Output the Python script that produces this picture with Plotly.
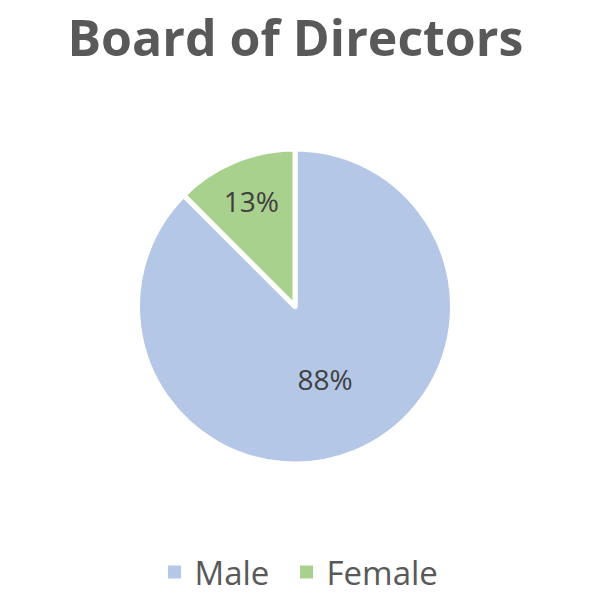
import plotly.graph_objects as go

labels = ["Male", "Female"]
values = [87.5, 12.5]
colors = ["#B4C7E7", "#A9D18E"]
title_text = "Board of Directors"

fig = go.Figure()
fig.add_trace(go.Pie(
    labels=labels,
    values=values,
    sort=False,
    direction="clockwise",
    rotation=0,
    marker=dict(colors=colors, line=dict(color="white", width=5)),
    texttemplate="%{percent:.0%}",
    textposition="inside",
    insidetextorientation="horizontal",
    textfont=dict(family="Open Sans, Arial, sans-serif", size=28, color="#404040"),
    domain=dict(x=[0.215, 0.7417], y=[0.24, 0.765]),
    hoverinfo="label+percent",
    showlegend=False,
))

# legend entries with larger square swatches, one legend per entry
legend_ids = ["legend", "legend2"]
for lab, col, lg in zip(labels, colors, legend_ids):
    fig.add_trace(go.Scatter(
        x=[None], y=[None], mode="markers", name=lab,
        marker=dict(symbol="square", size=13, color=col),
        showlegend=True, hoverinfo="skip", legend=lg,
    ))

legend_font = dict(family="Open Sans, Arial, sans-serif", size=33, color="#595959")
legend_y = 1 - 564/600

fig.update_layout(
    width=600, height=600,
    margin=dict(l=0, r=0, t=0, b=0, autoexpand=False),
    paper_bgcolor="white",
    plot_bgcolor="white",
    xaxis=dict(visible=False),
    yaxis=dict(visible=False),
    title=dict(
        text="<b>" + title_text + "</b>",
        x=0.479, xanchor="center",
        y=1 - 30/600, yanchor="middle",
        font=dict(family="Open Sans, Arial, sans-serif", size=50, color="#595959"),
    ),
    showlegend=True,
    legend=dict(
        orientation="h", x=0.2442, xanchor="left",
        y=legend_y, yanchor="middle", font=legend_font, itemwidth=30,
    ),
    legend2=dict(
        orientation="h", x=0.4642, xanchor="left",
        y=legend_y, yanchor="middle", font=legend_font, itemwidth=30,
    ),
)

fig.write_html("out.html")
